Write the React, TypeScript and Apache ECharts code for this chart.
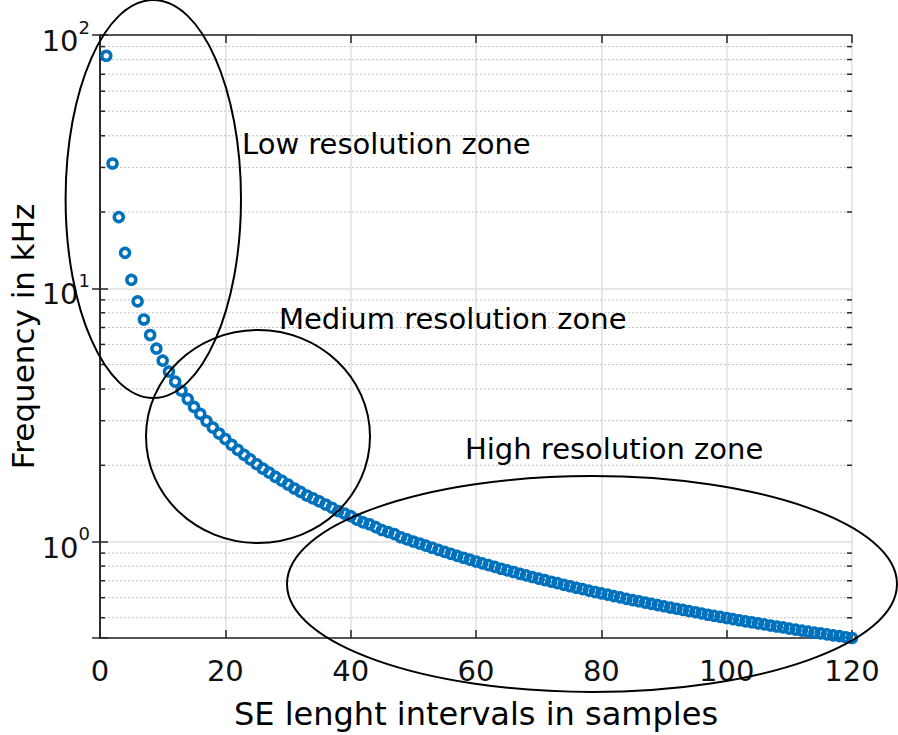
import React, { useEffect, useRef } from "react";
import * as echarts from "echarts";

// SE length (samples) and frequency (kHz)
const SE_LENGTHS = [
  1, 2, 3, 4, 5, 6, 7, 8, 9, 10, 11, 12, 13, 14, 15, 16, 17, 18, 19, 20,
  21, 22, 23, 24, 25, 26, 27, 28, 29, 30, 31, 32, 33, 34, 35, 36, 37, 38, 39, 40,
  41, 42, 43, 44, 45, 46, 47, 48, 49, 50, 51, 52, 53, 54, 55, 56, 57, 58, 59, 60,
  61, 62, 63, 64, 65, 66, 67, 68, 69, 70, 71, 72, 73, 74, 75, 76, 77, 78, 79, 80,
  81, 82, 83, 84, 85, 86, 87, 88, 89, 90, 91, 92, 93, 94, 95, 96, 97, 98, 99, 100,
  101, 102, 103, 104, 105, 106, 107, 108, 109, 110, 111, 112, 113, 114, 115, 116, 117, 118, 119, 120,
];

const FREQ_KHZ = [
  82.8, 31.1, 19.1, 13.8, 10.8, 8.88, 7.53, 6.54, 5.78, 5.18,
  4.69, 4.28, 3.94, 3.65, 3.4, 3.19, 2.99, 2.82, 2.67, 2.54,
  2.41, 2.3, 2.2, 2.11, 2.02, 1.94, 1.87, 1.8, 1.74, 1.68,
  1.62, 1.57, 1.52, 1.48, 1.44, 1.4, 1.36, 1.32, 1.29, 1.26,
  1.22, 1.19, 1.17, 1.14, 1.11, 1.09, 1.07, 1.04, 1.02, 1.0,
  0.982, 0.963, 0.945, 0.927, 0.91, 0.894, 0.878, 0.863, 0.848, 0.834,
  0.82, 0.807, 0.794, 0.781, 0.769, 0.758, 0.746, 0.735, 0.724, 0.714,
  0.704, 0.694, 0.685, 0.675, 0.666, 0.657, 0.649, 0.64, 0.632, 0.624,
  0.617, 0.609, 0.602, 0.594, 0.587, 0.581, 0.574, 0.567, 0.561, 0.555,
  0.549, 0.543, 0.537, 0.531, 0.526, 0.52, 0.514, 0.509, 0.504, 0.499,
  0.494, 0.489, 0.484, 0.48, 0.475, 0.471, 0.466, 0.462, 0.458, 0.453,
  0.449, 0.445, 0.441, 0.437, 0.434, 0.43, 0.426, 0.423, 0.419, 0.416,
];

const X_MIN = 0;
const X_MAX = 120;
const X_INTERVAL = 20;
const Y_MIN = 0.416;
const Y_MAX = 100;
const MINOR_Y_TICKS = [
  0.5, 0.6, 0.7, 0.8, 0.9,
  2, 3, 4, 5, 6, 7, 8, 9,
  20, 30, 40, 50, 60, 70, 80, 90,
];

const X_TITLE = "SE lenght intervals in samples";
const Y_TITLE = "Frequency in kHz";
const ZONE_LABELS = ["Low resolution zone", "Medium resolution zone", "High resolution zone"];

const FONT = '"DejaVu Sans", "Liberation Sans", Arial, sans-serif';
const AXIS_COLOR = "#262626";
const MARKER_COLOR = "#0072BD";

export default function App() {
  const ref = useRef<HTMLDivElement>(null);

  useEffect(() => {
    document.body.style.margin = "0";
    const chart = echarts.init(ref.current!, null, { renderer: "svg" });

    const yLabelFormatter = (value: number) => {
      const lg = Math.log10(value);
      const e = Math.round(lg);
      if (Math.abs(lg - e) > 1e-6) return "";
      return `{b|10}{s|${e}}`;
    };

    const option: any = {
      animation: false,
      backgroundColor: "#ffffff",
      grid: {
        left: 100,
        right: 46,
        top: 35,
        bottom: 97,
        containLabel: false,
        outerBoundsMode: "none",
      },
      xAxis: [
        {
          type: "value",
          position: "bottom",
          min: X_MIN,
          max: X_MAX,
          interval: X_INTERVAL,
          name: X_TITLE,
          nameLocation: "middle",
          nameGap: 60,
          nameMoveOverlap: false,
          nameTextStyle: { fontFamily: FONT, fontSize: 32, color: "#000" },
          axisLine: { show: true, lineStyle: { color: AXIS_COLOR, width: 1.6 } },
          axisTick: { show: true, inside: true, length: 8, lineStyle: { color: AXIS_COLOR, width: 1.5 } },
          axisLabel: { fontFamily: FONT, fontSize: 29, color: "#111", margin: 18 },
          splitLine: { show: true, lineStyle: { color: "#dfdfdf", width: 1.5 } },
        },
        {
          type: "value",
          position: "top",
          min: X_MIN,
          max: X_MAX,
          interval: X_INTERVAL,
          axisLine: { show: true, lineStyle: { color: AXIS_COLOR, width: 1.6 } },
          axisTick: { show: true, inside: true, length: 8, lineStyle: { color: AXIS_COLOR, width: 1.5 } },
          axisLabel: { show: false },
          splitLine: { show: false },
        },
      ],
      yAxis: [
        {
          type: "log",
          logBase: 10,
          position: "left",
          min: Y_MIN,
          max: Y_MAX,
          name: Y_TITLE,
          nameLocation: "middle",
          nameGap: 62,
          nameMoveOverlap: false,
          nameTextStyle: { fontFamily: FONT, fontSize: 31, color: "#000" },
          axisLine: { show: true, lineStyle: { color: AXIS_COLOR, width: 1.6 } },
          axisTick: { show: true, inside: true, length: 8, lineStyle: { color: AXIS_COLOR, width: 1.5 } },
          axisLabel: {
            formatter: yLabelFormatter,
            margin: 10,
            padding: [12, 0, 0, 0],
            rich: {
              b: { fontFamily: FONT, fontSize: 29, color: "#111", lineHeight: 46 },
              s: { fontFamily: FONT, fontSize: 18, color: "#111", verticalAlign: "top" },
            },
          },
          splitLine: { show: true, lineStyle: { color: "#dfdfdf", width: 1.5 } },
        },
        {
          type: "log",
          logBase: 10,
          position: "right",
          min: Y_MIN,
          max: Y_MAX,
          axisLine: { show: true, lineStyle: { color: AXIS_COLOR, width: 1.6 } },
          axisTick: { show: true, inside: true, length: 8, lineStyle: { color: AXIS_COLOR, width: 1.5 } },
          axisLabel: { show: false },
          splitLine: { show: false },
        },
      ],
      series: [
        {
          type: "custom",
          name: "minor",
          xAxisIndex: 0,
          yAxisIndex: 0,
          silent: true,
          z: 1,
          data: MINOR_Y_TICKS.map((v) => [X_MIN, v]),
          encode: { x: 0, y: 1 },
          renderItem: (params: any, api: any) => {
            const v = api.value(1);
            const l = api.coord([X_MIN, v]);
            const r = api.coord([X_MAX, v]);
            return {
              type: "group",
              children: [
                {
                  type: "line",
                  shape: { x1: l[0], y1: l[1], x2: r[0], y2: r[1] },
                  style: { stroke: "#c2c2c2", lineWidth: 1, lineDash: [2, 2] },
                },
                {
                  type: "line",
                  shape: { x1: l[0], y1: l[1], x2: l[0] + 5, y2: l[1] },
                  style: { stroke: AXIS_COLOR, lineWidth: 1.5 },
                },
                {
                  type: "line",
                  shape: { x1: r[0] - 5, y1: r[1], x2: r[0], y2: r[1] },
                  style: { stroke: AXIS_COLOR, lineWidth: 1.5 },
                },
              ],
            };
          },
        },
        {
          type: "scatter",
          name: "Frequency",
          xAxisIndex: 0,
          yAxisIndex: 0,
          z: 3,
          symbol: "circle",
          symbolSize: 9,
          itemStyle: {
            color: "rgba(0,0,0,0)",
            borderColor: MARKER_COLOR,
            borderWidth: 3.5,
            opacity: 1,
          },
          data: SE_LENGTHS.map((x, i) => [x, FREQ_KHZ[i]]),
        },
      ],
      graphic: [
        {
          type: "ellipse",
          z: 100,
          silent: true,
          shape: { cx: 153.3, cy: 199, rx: 87.7, ry: 199 },
          style: { fill: "none", stroke: "#000", lineWidth: 2 },
        },
        {
          type: "ellipse",
          z: 100,
          silent: true,
          shape: { cx: 258, cy: 436.5, rx: 112, ry: 106.5 },
          style: { fill: "none", stroke: "#000", lineWidth: 2 },
        },
        {
          type: "ellipse",
          z: 100,
          silent: true,
          shape: { cx: 592, cy: 584, rx: 305, ry: 108 },
          style: { fill: "none", stroke: "#000", lineWidth: 2 },
        },
        {
          type: "text",
          z: 101,
          x: 242,
          y: 144,
          style: { text: ZONE_LABELS[0], fontFamily: FONT, fontSize: 29, fill: "#000", verticalAlign: "middle", align: "left" },
        },
        {
          type: "text",
          z: 101,
          x: 279,
          y: 319,
          style: { text: ZONE_LABELS[1], fontFamily: FONT, fontSize: 29, fill: "#000", verticalAlign: "middle", align: "left" },
        },
        {
          type: "text",
          z: 101,
          x: 465,
          y: 449,
          style: { text: ZONE_LABELS[2], fontFamily: FONT, fontSize: 29, fill: "#000", verticalAlign: "middle", align: "left" },
        },
      ],
    };

    chart.setOption(option);
    return () => chart.dispose();
  }, []);

  return (
    <div
      ref={ref}
      style={{ position: "fixed", left: 0, top: 0, width: 898, height: 735, background: "#fff" }}
    />
  );
}
